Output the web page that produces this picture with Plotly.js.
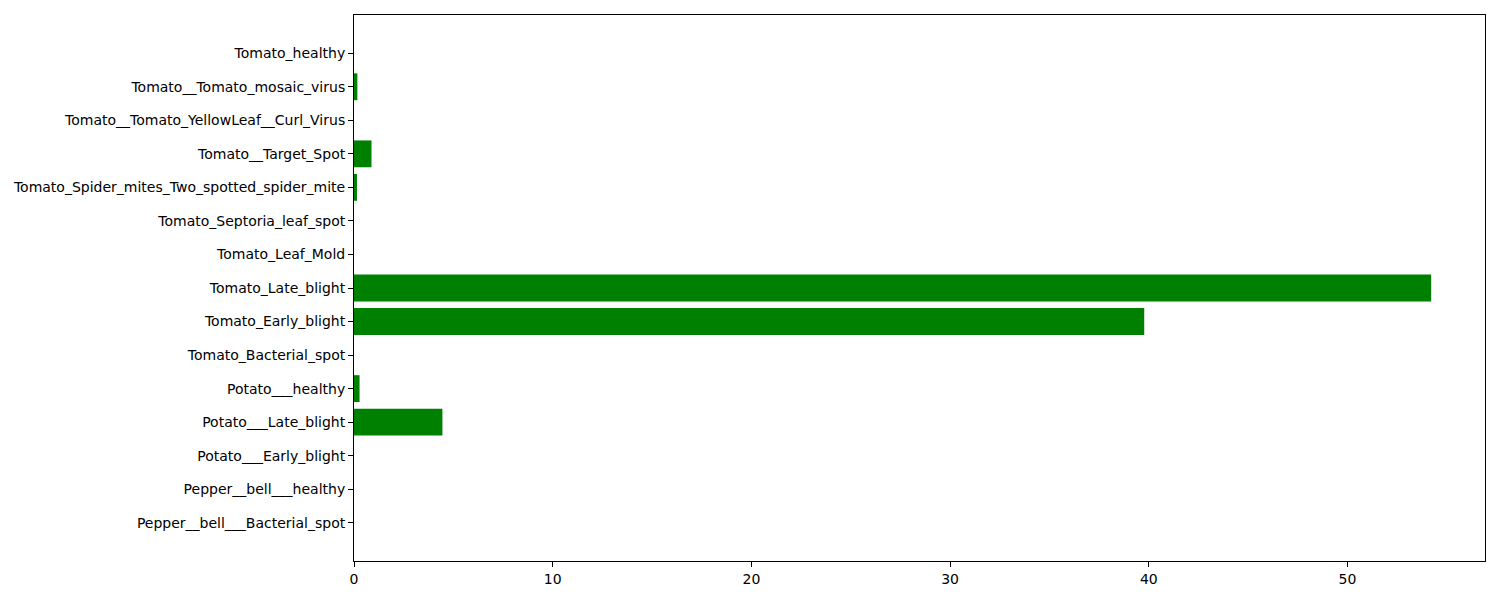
<!DOCTYPE html>
<html lang="en">
<head>
    <meta charset="UTF-8">
    <title>Disease prediction</title>
    <script src="https://cdn.plot.ly/plotly-3.0.1.min.js"></script>
    <style>
        body { margin: 0; background: #fff; }
        #chart { width: 1500px; height: 600px; }
    </style>
</head>
<body>

<div id="chart"></div>

<script>
    let classNames = [
        "Pepper__bell___Bacterial_spot",
        "Pepper__bell___healthy",
        "Potato___Early_blight",
        "Potato___Late_blight",
        "Potato___healthy",
        "Tomato_Bacterial_spot",
        "Tomato_Early_blight",
        "Tomato_Late_blight",
        "Tomato_Leaf_Mold",
        "Tomato_Septoria_leaf_spot",
        "Tomato_Spider_mites_Two_spotted_spider_mite",
        "Tomato__Target_Spot",
        "Tomato__Tomato_YellowLeaf__Curl_Virus",
        "Tomato__Tomato_mosaic_virus",
        "Tomato_healthy"
    ];

    let percentages = [0, 0, 0, 4.45, 0.28, 0, 39.77, 54.21, 0, 0, 0.15, 0.88, 0, 0.17, 0];

    let xTicks = [0, 10, 20, 30, 40, 50];

    let chart = document.getElementById("chart");

    let trace = {
        type: "bar",
        orientation: "h",
        x: percentages,
        y: classNames,
        marker: {color: "green", line: {width: 0}},
        hoverinfo: "x+y"
    };

    let axisFont = {family: "DejaVu Sans", size: 14, color: "#000"};

    let layout = {
        width: 1500,
        height: 600,
        margin: {l: 354, r: 15, t: 15, b: 39, pad: 0},
        paper_bgcolor: "#fff",
        plot_bgcolor: "#fff",
        showlegend: false,
        bargap: 0.2,
        font: axisFont,
        xaxis: {
            range: [0, Math.max(...percentages) * 1.05],
            tickvals: xTicks,
            ticktext: xTicks.map(String),
            ticks: "outside",
            ticklen: 5,
            tickwidth: 1,
            tickcolor: "#000",
            showgrid: false,
            zeroline: false,
            showline: true,
            linecolor: "#000",
            linewidth: 1,
            mirror: true,
            tickfont: axisFont
        },
        yaxis: {
            type: "category",
            range: [-1.14, classNames.length - 1 + 1.14],
            ticks: "outside",
            ticklen: 5,
            tickwidth: 1,
            tickcolor: "#000",
            showgrid: false,
            zeroline: false,
            showline: true,
            linecolor: "#000",
            linewidth: 1,
            mirror: true,
            tickfont: axisFont
        }
    };

    Plotly.newPlot(chart, [trace], layout, {displayModeBar: false, staticPlot: true});
</script>

</body>
</html>
